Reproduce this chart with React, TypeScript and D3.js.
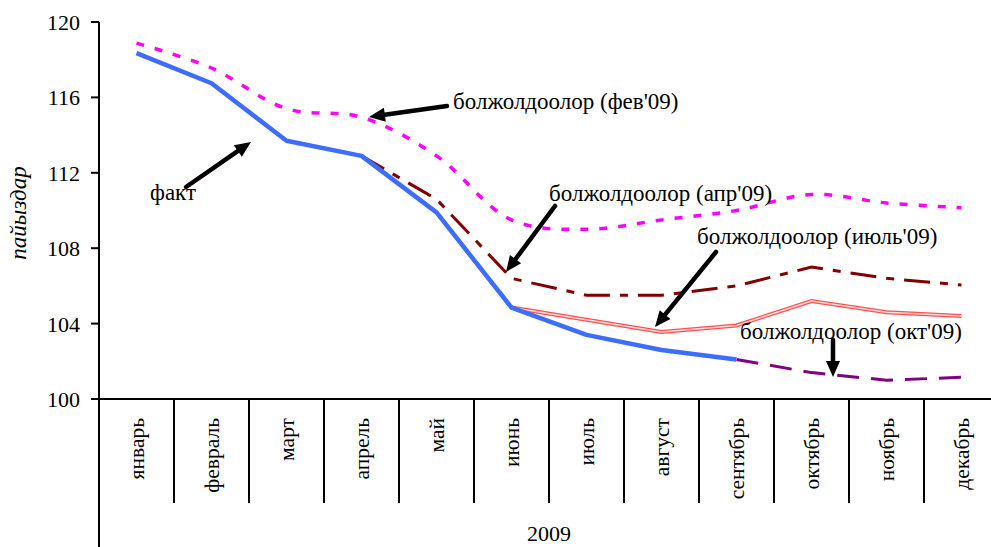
import React from "react";
import * as d3 from "d3";

const months = ["январь", "февраль", "март", "апрель", "май", "июнь", "июль", "август", "сентябрь", "октябрь", "ноябрь", "декабрь"];
const yTicks = [100, 104, 108, 112, 116, 120];
const factSeries: (number | null)[] = [118.35, 116.75, 113.7, 112.9, 109.9, 104.85, 103.4, 102.6, 102.1, null, null, null];
const febForecast: (number | null)[] = [118.88, 117.56, 115.4, 114.95, 112.9, 109.5, 109.0, 109.5, 110.0, 110.85, 110.4, 110.15];
const aprForecast: (number | null)[] = [null, null, null, 112.9, 110.6, 106.4, 105.5, 105.5, 106.0, 107.0, 106.4, 106.05];
const julForecast: (number | null)[] = [null, null, null, null, null, 104.85, 104.2, 103.55, 103.9, 105.2, 104.6, 104.4];
const octForecast: (number | null)[] = [null, null, null, null, null, null, null, null, 102.1, 101.4, 101.0, 101.15];
const yearLabel = "2009";
const yLabel = "пайыздар";
const labelFact = "факт";
const labelFeb = "болжолдоолор (фев'09)";
const labelApr = "болжолдоолор (апр'09)";
const labelJul = "болжолдоолор (июль'09)";
const labelOct = "болжолдоолор (окт'09)";

const W = 991;
const H = 547;
const FONT = "'Liberation Serif', 'Times New Roman', serif";

export default function App() {
  const x0 = 99;
  const band = 75;
  const x = d3.scaleBand<string>().domain(months).range([x0, x0 + band * months.length]).paddingInner(0).paddingOuter(0);
  const y = d3.scaleLinear().domain([100, 120]).range([399, 22]);
  const cx = (i: number) => (x(months[i]) as number) + x.bandwidth() / 2;

  const mk = (data: (number | null)[], curve: d3.CurveFactory = d3.curveLinear) =>
    d3
      .line<number | null>()
      .defined((d) => d !== null)
      .x((_, i) => cx(i))
      .y((d) => y(d as number))
      .curve(curve)(data) || "";

  const arrow = (x1: number, y1: number, x2: number, y2: number, key: string) => {
    const ang = Math.atan2(y2 - y1, x2 - x1);
    const len = 16;
    const hw = 7;
    const bx = x2 - len * Math.cos(ang);
    const by = y2 - len * Math.sin(ang);
    const px = -Math.sin(ang);
    const py = Math.cos(ang);
    const pts = `${x2},${y2} ${bx + px * hw},${by + py * hw} ${bx - px * hw},${by - py * hw}`;
    return (
      <g key={key}>
        <line x1={x1} y1={y1} x2={bx + Math.cos(ang) * 2} y2={by + Math.sin(ang) * 2} stroke="#000" strokeWidth={4.5} strokeLinecap="round" />
        <polygon points={pts} fill="#000" />
      </g>
    );
  };

  const baseY = y(100);

  return (
    <svg width={W} height={H} style={{ position: "absolute", left: 0, top: 0, background: "#fff" }} fontFamily={FONT}>
      {/* axes */}
      <line x1={x0} y1={y(120)} x2={x0} y2={H} stroke="#000" strokeWidth={2} />
      <line x1={x0 - 8} y1={baseY} x2={W} y2={baseY} stroke="#000" strokeWidth={2} />
      {yTicks.map((t) => (
        <g key={t}>
          <line x1={x0 - 8} x2={x0} y1={y(t)} y2={y(t)} stroke="#000" strokeWidth={2} />
          <text x={x0 - 19} y={y(t)} dy="0.36em" textAnchor="end" fontSize={22}>
            {t}
          </text>
        </g>
      ))}
      {months.map((m, i) =>
        i > 0 ? (
          <line key={"d" + m} x1={x(m)} x2={x(m)} y1={baseY} y2={503} stroke="#000" strokeWidth={2} />
        ) : null
      )}
      {months.map((m, i) => (
        <text key={m} transform={`translate(${cx(i)},${418}) rotate(-90)`} textAnchor="end" dy="0.35em" fontSize={21.5}>
          {m}
        </text>
      ))}
      <text x={549} y={541} textAnchor="middle" fontSize={22}>
        {yearLabel}
      </text>
      <text transform={`translate(26,213) rotate(-90)`} textAnchor="middle" fontSize={23} fontStyle="italic">
        {yLabel}
      </text>

      {/* series */}
      <path d={mk(febForecast, d3.curveCatmullRom)} fill="none" stroke="#ff00ff" strokeWidth={3.5} strokeDasharray="8,11" />
      <path d={mk(aprForecast)} fill="none" stroke="#800000" strokeWidth={3} strokeDasharray="26,10,8,10" />
      <path d={mk(julForecast)} fill="none" stroke="#ff5050" strokeWidth={4} />
      <path d={mk(julForecast)} fill="none" stroke="#ffd8d8" strokeWidth={1.5} />
      <path d={mk(octForecast)} fill="none" stroke="#800080" strokeWidth={3} strokeDasharray="22,12" />
      <path d={mk(factSeries)} fill="none" stroke="#3d6dff" strokeWidth={4.5} strokeLinejoin="round" />

      {/* annotations */}
      {arrow(447, 106, 369, 117, "a1")}
      <text x={453} y={109} fontSize={23}>{labelFeb}</text>
      {arrow(186, 187, 251, 142, "a2")}
      <text x={150} y={200} fontSize={23}>{labelFact}</text>
      {arrow(555, 206, 506, 272, "a3")}
      <text x={549} y={201} fontSize={23}>{labelApr}</text>
      {arrow(716, 252, 655, 327, "a4")}
      <text x={697} y={244} fontSize={23}>{labelJul}</text>
      {arrow(833, 340, 833, 377, "a5")}
      <text x={740} y={339} fontSize={23}>{labelOct}</text>
    </svg>
  );
}
